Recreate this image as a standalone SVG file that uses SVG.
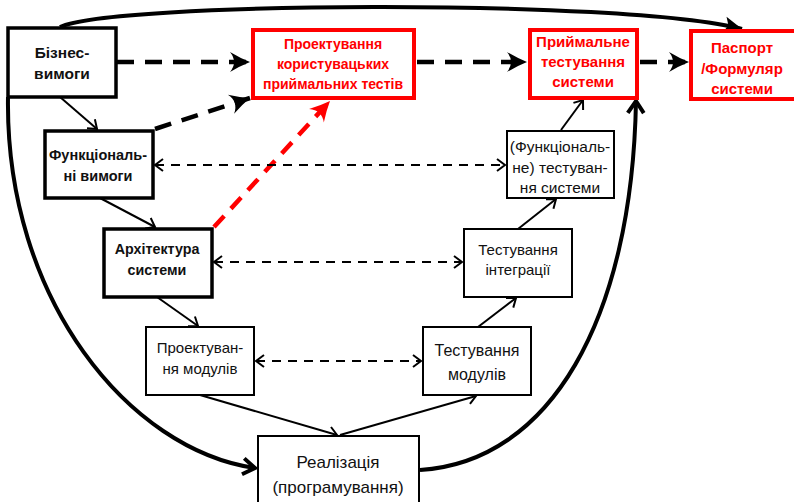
<svg xmlns="http://www.w3.org/2000/svg" width="794" height="502" viewBox="0 0 794 502">
<style>
text{font-family:"Liberation Sans",Arial,sans-serif;text-anchor:middle;fill:#111}
.b{font-weight:bold}
.red{fill:#ff0000;font-weight:bold;font-size:15px}
.box{fill:#fff;stroke:#000}
.thick{stroke-width:3.5}
.thin{stroke-width:2}
.rbox{fill:#fff;stroke:#ff0000;stroke-width:4}
.sol{fill:none;stroke:#000;stroke-width:2}
.curve{fill:none;stroke:#000;stroke-width:4}
.td{fill:none;stroke:#000;stroke-width:4.5;stroke-dasharray:17 11}
.rd{fill:none;stroke:#ff0000;stroke-width:4.5;stroke-dasharray:15 10}
.dd{fill:none;stroke:#000;stroke-width:2;stroke-dasharray:9 7}
</style>
<defs>
<marker id="ch" markerUnits="userSpaceOnUse" markerWidth="14" markerHeight="14" refX="10" refY="6" orient="auto-start-reverse" overflow="visible">
<path d="M2,0 L10,6 L2,12" fill="none" stroke="#000" stroke-width="2"/>
</marker>
<marker id="st" markerUnits="userSpaceOnUse" markerWidth="22" markerHeight="22" refX="20" refY="10" orient="auto" overflow="visible">
<path d="M0,0 Q10,6 20,10 Q10,14 0,20 Q8,10 0,0 z" fill="#000"/>
</marker>
<marker id="stR" markerUnits="userSpaceOnUse" markerWidth="22" markerHeight="22" refX="20" refY="10" orient="auto" overflow="visible">
<path d="M0,0 Q10,6 20,10 Q10,14 0,20 Q8,10 0,0 z" fill="#ff0000"/>
</marker>
<marker id="cth" markerUnits="userSpaceOnUse" markerWidth="20" markerHeight="20" refX="14" refY="9" orient="auto" overflow="visible">
<path d="M2,1 L14,9 L2,17" fill="none" stroke="#000" stroke-width="4"/>
</marker>
<marker id="ctf" markerUnits="userSpaceOnUse" markerWidth="20" markerHeight="20" refX="18" refY="8" orient="auto" overflow="visible">
<path d="M0,0 L18,8 L0,16 L4,8 z" fill="#000"/>
</marker>
</defs>

<g id="connectors">
<path class="curve" d="M60,27 C110,2 620,-2 742,29" marker-end="url(#ctf)"/>
<path class="curve" d="M8,97 C5,300 130,450 255,468" marker-end="url(#cth)"/>
<path class="curve" d="M420,470 C550,462 632,320 636,101" marker-end="url(#cth)"/>
<path class="td" d="M117,62 L250,62" marker-end="url(#st)"/>
<path class="td" d="M417,62 L527,62" marker-end="url(#st)"/>
<path class="td" d="M640,62 L689,62" marker-end="url(#st)"/>
<path class="td" d="M155,129 L250,98" marker-end="url(#st)"/>
<path class="rd" d="M214,227 L330,101" marker-end="url(#stR)"/>
<path class="sol" d="M60,97 L97,129" marker-end="url(#ch)"/>
<path class="sol" d="M100,198 L155,227" marker-end="url(#ch)"/>
<path class="sol" d="M157,297 L198,326" marker-end="url(#ch)"/>
<path class="sol" d="M200,395 L337,435" marker-end="url(#ch)"/>
<path class="sol" d="M340,435 L476,396" marker-end="url(#ch)"/>
<path class="sol" d="M478,327 L516,298" marker-end="url(#ch)"/>
<path class="sol" d="M518,229 L556,199" marker-end="url(#ch)"/>
<path class="sol" d="M561,130 L583,100" marker-end="url(#ch)"/>
<path class="dd" d="M155,165 L505,165" marker-start="url(#ch)" marker-end="url(#ch)"/>
<path class="dd" d="M214,262 L462,262" marker-start="url(#ch)" marker-end="url(#ch)"/>
<path class="dd" d="M256,361 L421,361" marker-start="url(#ch)" marker-end="url(#ch)"/>
</g>

<g id="biz">
<rect class="box thick" x="8" y="28" width="108" height="69"/>
<text class="b" font-size="15.5" x="62" y="58">Бізнес-</text>
<text class="b" font-size="15.5" x="62" y="79">вимоги</text>
</g>
<g id="uat-design">
<rect class="rbox" x="253" y="30" width="161" height="68"/>
<text class="red" font-size="14" x="333" y="49" style="font-size:14px">Проектування</text>
<text class="red" x="333" y="69" style="font-size:14px">користувацьких</text>
<text class="red" x="333" y="89" style="font-size:14px">приймальних  тестів</text>
</g>
<g id="acceptance">
<rect class="rbox" x="530" y="30" width="107" height="68"/>
<text class="red" x="583" y="47">Приймальне</text>
<text class="red" x="583" y="67">тестування</text>
<text class="red" x="583" y="87">системи</text>
</g>
<g id="passport">
<rect class="rbox" x="691" y="31" width="110" height="68"/>
<text class="red" x="742" y="53">Паспорт</text>
<text class="red" x="742" y="74">/Формуляр</text>
<text class="red" x="742" y="94">системи</text>
</g>
<g id="func-req">
<rect class="box thick" x="45" y="131" width="108" height="67"/>
<text class="b" font-size="14.5" x="98" y="160">Функціональ-</text>
<text class="b" font-size="14.5" x="98" y="181">ні вимоги</text>
</g>
<g id="arch">
<rect class="box thick" x="104" y="229" width="108" height="68"/>
<text class="b" font-size="14.3" x="157" y="254">Архітектура</text>
<text class="b" font-size="14.3" x="157" y="275">системи</text>
</g>
<g id="mod-design">
<rect class="box thin" x="146" y="327" width="108" height="68"/>
<text font-size="15" x="200" y="353">Проектуван-</text>
<text font-size="15" x="200" y="374">ня модулів</text>
</g>
<g id="impl">
<rect class="box thin" x="258" y="436" width="161" height="72"/>
<text font-size="17" x="338" y="468">Реалізація</text>
<text font-size="17" x="338" y="493">(програмування)</text>
</g>
<g id="unit-test">
<rect class="box thin" x="423" y="327" width="108" height="68"/>
<text font-size="16" x="477" y="356">Тестування</text>
<text font-size="16" x="477" y="380">модулів</text>
</g>
<g id="integ-test">
<rect class="box thin" x="464" y="229" width="108" height="68"/>
<text font-size="15" x="518" y="255">Тестування</text>
<text font-size="15" x="518" y="275">інтеграції</text>
</g>
<g id="sys-test">
<rect class="box thin" x="507" y="131" width="107" height="67"/>
<text font-size="15.5" x="560" y="152">(Функціональ-</text>
<text font-size="15.5" x="560" y="173">не) тестуван-</text>
<text font-size="15.5" x="560" y="193">ня системи</text>
</g>
</svg>
